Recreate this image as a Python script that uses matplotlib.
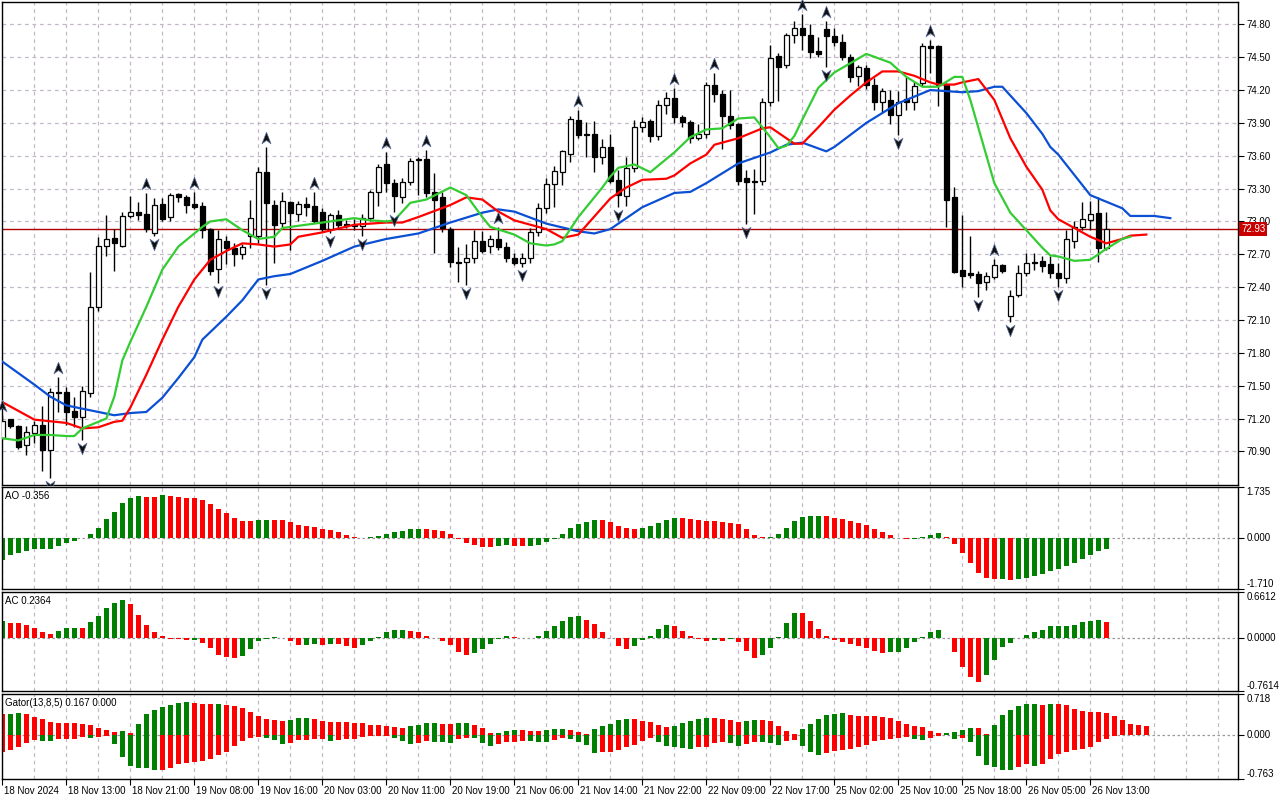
import numpy as np
import matplotlib
matplotlib.use("Agg")
import matplotlib.pyplot as plt
from matplotlib.path import Path
from matplotlib.transforms import ScaledTranslation, blended_transform_factory

plt.rcParams['font.family'] = ['Liberation Sans', 'DejaVu Sans']

# ---------------- data ----------------
TIME_LABELS = ["18 Nov 2024", "18 Nov 13:00", "18 Nov 21:00", "19 Nov 08:00", "19 Nov 16:00",
               "20 Nov 03:00", "20 Nov 11:00", "20 Nov 19:00", "21 Nov 06:00", "21 Nov 14:00",
               "21 Nov 22:00", "22 Nov 09:00", "22 Nov 17:00", "25 Nov 02:00", "25 Nov 10:00",
               "25 Nov 18:00", "26 Nov 05:00", "26 Nov 13:00"]

OPEN = [71.02, 71.20, 71.13, 70.96, 71.07, 71.14, 70.91, 71.44, 71.44, 71.27,
        71.21, 71.43, 72.22, 72.78, 72.85, 72.78, 73.05, 73.09, 73.07, 72.89,
        73.16, 73.04, 73.25, 73.22, 73.16, 73.14, 72.93, 72.57, 72.82, 72.76,
        72.70, 72.87, 72.87, 73.45, 73.15, 72.99, 73.18, 73.07, 73.16, 73.14,
        73.09, 72.93, 73.06, 72.98, 72.97, 72.96, 73.03, 73.27, 73.52, 73.35,
        73.22, 73.36, 73.56, 73.57, 73.27, 73.22, 72.93, 72.63, 72.63, 72.67,
        72.82, 72.78, 72.84, 72.77, 72.67, 72.62, 72.67, 72.90, 73.12, 73.34,
        73.45, 73.62, 73.93, 73.80, 73.80, 73.59, 73.68, 73.38, 73.23, 73.49,
        73.86, 73.92, 73.78, 74.06, 74.13, 73.95, 73.91, 73.76, 73.80, 74.25,
        74.16, 73.96, 73.89, 73.40, 73.36, 73.37, 74.09, 74.51, 74.43, 74.70,
        74.77, 74.70, 74.56, 74.76, 74.69, 74.64, 74.50, 74.33, 74.40, 74.25,
        74.09, 74.11, 73.97, 74.12, 74.09, 74.26, 74.60, 74.60, 74.25, 73.22,
        72.56, 72.53, 72.52, 72.45, 72.49, 72.60, 72.14, 72.33, 72.53, 72.63,
        72.64, 72.61, 72.53, 72.48, 72.82, 72.95, 73.01, 73.08, 72.76]
HIGH = [71.23, 71.20, 71.14, 71.13, 71.18, 71.31, 71.48, 71.58, 71.49, 71.40,
        71.50, 72.54, 72.86, 73.06, 72.93, 73.09, 73.23, 73.18, 73.26, 73.21,
        73.21, 73.26, 73.26, 73.24, 73.27, 73.18, 72.94, 72.92, 72.87, 72.80,
        72.79, 73.20, 73.50, 73.68, 73.20, 73.27, 73.19, 73.19, 73.22, 73.27,
        73.12, 73.08, 73.10, 73.01, 73.02, 73.07, 73.29, 73.52, 73.63, 73.39,
        73.40, 73.58, 73.59, 73.65, 73.44, 73.27, 72.95, 72.77, 72.79, 72.92,
        72.91, 72.88, 72.95, 72.81, 72.71, 72.71, 72.94, 73.17, 73.40, 73.51,
        73.65, 73.96, 74.02, 73.91, 73.92, 73.75, 73.80, 73.47, 73.59, 73.93,
        73.95, 73.94, 74.11, 74.18, 74.22, 73.97, 73.93, 73.89, 74.27, 74.36,
        74.20, 74.20, 73.90, 73.47, 73.48, 74.13, 74.61, 74.54, 74.72, 74.83,
        74.89, 74.80, 74.68, 74.83, 74.77, 74.71, 74.53, 74.43, 74.43, 74.31,
        74.22, 74.20, 74.19, 74.32, 74.27, 74.63, 74.66, 74.61, 74.26, 73.31,
        73.06, 72.87, 72.55, 72.54, 72.66, 72.61, 72.37, 72.60, 72.71, 72.71,
        72.68, 72.68, 72.62, 72.92, 73.00, 73.18, 73.19, 73.22, 73.09]
LOW = [71.00, 71.11, 70.92, 70.87, 70.98, 70.72, 70.66, 71.26, 71.14, 71.12,
       71.00, 71.40, 72.18, 72.68, 72.55, 72.77, 73.03, 73.01, 72.90, 72.87,
       73.00, 73.00, 73.18, 73.08, 73.11, 72.85, 72.51, 72.44, 72.61, 72.59,
       72.66, 72.76, 72.80, 72.42, 72.62, 72.95, 72.74, 73.00, 73.05, 72.99,
       72.90, 72.89, 72.93, 72.94, 72.92, 72.87, 73.00, 73.14, 73.27, 73.09,
       73.17, 73.33, 73.24, 73.22, 72.71, 72.90, 72.58, 72.45, 72.42, 72.62,
       72.71, 72.71, 72.74, 72.63, 72.60, 72.58, 72.62, 72.87, 73.08, 73.13,
       73.33, 73.54, 73.76, 73.59, 73.45, 73.52, 73.35, 73.13, 73.14, 73.45,
       73.82, 73.73, 73.74, 73.98, 73.90, 73.86, 73.72, 73.74, 73.76, 74.09,
       73.66, 73.84, 73.33, 72.98, 73.07, 73.33, 74.05, 74.10, 74.40, 74.63,
       74.57, 74.49, 74.50, 74.41, 74.60, 74.47, 74.27, 74.24, 74.21, 74.02,
       73.99, 73.89, 73.79, 74.02, 74.02, 74.24, 74.36, 74.05, 72.95, 72.53,
       72.40, 72.48, 72.31, 72.37, 72.47, 72.53, 72.08, 72.31, 72.50, 72.56,
       72.54, 72.48, 72.40, 72.44, 72.76, 72.92, 72.92, 72.63, 72.74]
CLOSE = [71.18, 71.13, 70.94, 71.08, 71.14, 70.91, 71.44, 71.43, 71.26, 71.21,
         71.45, 72.22, 72.78, 72.84, 72.80, 73.05, 73.09, 73.06, 72.93, 73.15,
         73.02, 73.24, 73.22, 73.15, 73.13, 72.92, 72.55, 72.84, 72.76, 72.70,
         72.77, 73.03, 73.45, 73.17, 72.97, 73.19, 73.08, 73.16, 73.13, 73.00,
         72.93, 73.06, 72.97, 72.96, 72.96, 73.03, 73.27, 73.50, 73.35, 73.23,
         73.36, 73.55, 73.57, 73.26, 73.20, 72.94, 72.63, 72.62, 72.67, 72.82,
         72.73, 72.84, 72.77, 72.67, 72.62, 72.67, 72.90, 73.12, 73.34, 73.46,
         73.64, 73.94, 73.79, 73.79, 73.59, 73.68, 73.37, 73.24, 73.49, 73.86,
         73.91, 73.78, 74.06, 74.13, 73.95, 73.91, 73.76, 73.80, 74.25, 74.16,
         73.96, 73.88, 73.37, 73.36, 73.365, 74.09, 74.49, 74.41, 74.70, 74.77,
         74.70, 74.55, 74.53, 74.69, 74.64, 74.50, 74.32, 74.41, 74.25, 74.09,
         74.19, 73.97, 74.09, 74.09, 74.24, 74.60, 74.58, 74.25, 73.20, 72.54,
         72.50, 72.51, 72.44, 72.50, 72.60, 72.55, 72.32, 72.53, 72.62, 72.62,
         72.59, 72.53, 72.48, 72.84, 72.95, 73.02, 73.07, 72.76, 72.93]

# Alligator lines (bar index, price)
JAW_X = [0, 4, 6, 8, 10, 12, 14, 16, 18, 20, 22, 24, 25, 28, 30, 32, 34, 36, 38, 40,
         44, 48, 52, 56, 60, 62, 64, 68, 72, 74, 76, 80, 84, 86, 88, 92, 96, 98, 100, 103,
         104, 108, 112, 116, 118, 120, 122, 124, 125, 128, 130, 131, 132, 136, 140, 141, 144, 146]
JAW_Y = [71.72, 71.51, 71.40, 71.32, 71.29, 71.26, 71.23, 71.25, 71.26, 71.39, 71.57, 71.76, 71.92,
         72.13, 72.28, 72.47, 72.50, 72.52, 72.58, 72.64,
         72.77, 72.84, 72.89, 72.99, 73.08, 73.11, 73.09, 72.98, 72.91, 72.89, 72.93, 73.13, 73.26,
         73.27, 73.35, 73.53, 73.63, 73.70, 73.72, 73.64,
         73.68, 73.90, 74.08, 74.20, 74.19, 74.18, 74.19, 74.23, 74.23, 73.99, 73.80, 73.68, 73.61,
         73.24, 73.12, 73.05, 73.05, 73.03]
TEETH_X = [0, 4, 8, 10, 12, 14, 15, 16, 18, 20, 22, 24, 26, 28, 30, 32, 34, 36, 37, 40,
           44, 48, 50, 52, 56, 58, 60, 62, 64, 68, 70, 72, 76, 78, 80, 83, 84, 86, 88, 89,
           92, 95, 96, 98, 99, 100, 102, 104, 106, 108, 110, 112, 114, 116, 117, 119, 120, 122,
           124, 126, 128, 130, 131, 132, 136, 138, 140, 141, 143]
TEETH_Y = [71.35, 71.19, 71.16, 71.11, 71.12, 71.17, 71.18, 71.30, 71.60, 71.92, 72.22, 72.47,
           72.65, 72.73, 72.80, 72.79, 72.77, 72.79, 72.86, 72.90,
           72.97, 72.99, 72.99, 73.04, 73.15, 73.22, 73.20, 73.09, 73.01, 72.93, 72.85, 72.88,
           73.21, 73.31, 73.38, 73.39, 73.42, 73.53, 73.61, 73.70,
           73.76, 73.85, 73.86, 73.76, 73.71, 73.71, 73.86, 74.02, 74.15, 74.27, 74.37, 74.37,
           74.33, 74.27, 74.25, 74.25, 74.27, 74.30,
           74.11, 73.76, 73.50, 73.29, 73.10, 73.02, 72.86, 72.80, 72.84, 72.87, 72.88]
LIPS_X = [0, 2, 4, 6, 8, 9, 10, 12, 13, 14, 15, 16, 18, 20, 22, 24, 25, 26, 28, 30,
          32, 34, 35, 36, 38, 40, 44, 46, 48, 49, 51, 53, 56, 58, 60, 61, 64, 66, 68, 69,
          70, 72, 75, 76, 77, 79, 81, 84, 86, 88, 90, 92, 94, 96, 97, 98, 99, 100, 102, 104,
          108, 111, 113, 115, 117, 119, 120, 121, 124, 126, 128, 130, 131, 132, 134, 136, 138,
          140, 141]
LIPS_Y = [71.02, 71.00, 71.05, 71.05, 71.04, 71.04, 71.11, 71.17, 71.20, 71.40, 71.73, 71.90,
          72.22, 72.56, 72.77, 72.89, 72.95, 73.00, 73.02, 72.92,
          72.84, 72.86, 72.94, 72.95, 72.97, 72.99, 73.03, 73.01, 73.00, 73.01, 73.17, 73.20,
          73.31, 73.24, 73.04, 72.95, 72.88, 72.80, 72.78, 72.79,
          72.82, 73.04, 73.31, 73.41, 73.49, 73.52, 73.45, 73.63, 73.77, 73.84, 73.85, 73.94,
          73.95, 73.77, 73.67, 73.69, 73.78, 73.93, 74.22, 74.36,
          74.53, 74.45, 74.32, 74.23, 74.23, 74.32, 74.32, 74.11, 73.35, 73.08, 72.92, 72.76,
          72.69, 72.68, 72.64, 72.65, 72.75, 72.84, 72.86]

FRACTAL_UP = [0, 7, 18, 24, 33, 39, 48, 53, 62, 72, 84, 89, 100, 103, 116, 124]
FRACTAL_DN = [6, 10, 19, 27, 33, 41, 45, 49, 58, 65, 77, 93, 103, 112, 122, 126, 132]

AO = [-0.73, -0.56, -0.51, -0.43, -0.36, -0.355, -0.35, -0.26, -0.17, -0.08,
      0.01, 0.135, 0.34, 0.64, 0.88, 1.18, 1.35, 1.42, 1.41, 1.40,
      1.45, 1.43, 1.385, 1.38, 1.35, 1.28, 1.15, 0.99, 0.845, 0.69,
      0.575, 0.57, 0.62, 0.625, 0.615, 0.61, 0.54, 0.44, 0.415, 0.38,
      0.315, 0.27, 0.20, 0.10, 0.035, 0.005, 0.045, 0.08, 0.135, 0.20,
      0.235, 0.30, 0.305, 0.30, 0.27, 0.25, 0.145, -0.005, -0.17, -0.225,
      -0.29, -0.295, -0.26, -0.225, -0.26, -0.265, -0.26, -0.225, -0.125, -0.005,
      0.135, 0.35, 0.485, 0.55, 0.62, 0.615, 0.54, 0.415, 0.34, 0.30,
      0.34, 0.405, 0.505, 0.61, 0.685, 0.68, 0.65, 0.62, 0.575, 0.57,
      0.54, 0.535, 0.47, 0.30, 0.10, 0.035, 0.04, 0.135, 0.34, 0.575,
      0.71, 0.74, 0.745, 0.74, 0.685, 0.65, 0.575, 0.505, 0.44, 0.30,
      0.20, 0.10, 0.005, -0.01, -0.005, 0.035, 0.10, 0.18, 0.03, -0.19,
      -0.48, -0.82, -1.16, -1.33, -1.37, -1.36, -1.41, -1.37, -1.33, -1.26,
      -1.22, -1.10, -1.02, -0.92, -0.82, -0.69, -0.55, -0.42, -0.356]
AC = [0.24, 0.22, 0.21, 0.19, 0.147, 0.08, 0.06, 0.10, 0.147, 0.15,
      0.145, 0.23, 0.32, 0.43, 0.50, 0.54, 0.49, 0.33, 0.19, 0.09,
      0.03, -0.01, -0.02, -0.035, -0.03, -0.075, -0.15, -0.24, -0.28, -0.29,
      -0.265, -0.165, -0.05, -0.01, 0.01, -0.005, -0.05, -0.105, -0.10, -0.09,
      -0.105, -0.09, -0.092, -0.12, -0.14, -0.105, -0.05, 0.015, 0.09, 0.12,
      0.121, 0.105, 0.08, 0.03, 0.0, -0.05, -0.105, -0.195, -0.25, -0.21,
      -0.165, -0.09, -0.01, 0.03, 0.015, -0.003, -0.005, 0.03, 0.105, 0.175,
      0.245, 0.30, 0.32, 0.26, 0.205, 0.09, -0.005, -0.12, -0.165, -0.12,
      -0.035, 0.03, 0.13, 0.19, 0.175, 0.105, 0.03, -0.02, -0.05, -0.035,
      -0.04, -0.02, -0.06, -0.18, -0.29, -0.25, -0.14, 0.015, 0.22, 0.36,
      0.355, 0.245, 0.13, 0.03, -0.035, -0.06, -0.09, -0.12, -0.14, -0.18,
      -0.21, -0.20, -0.195, -0.15, -0.06, 0.015, 0.09, 0.12, -0.005, -0.204,
      -0.417, -0.56, -0.63, -0.53, -0.318, -0.133, -0.076, -0.003, 0.047, 0.08,
      0.109, 0.175, 0.176, 0.177, 0.194, 0.223, 0.251, 0.26, 0.2364]
GATOR_UP = [0.361, 0.376, 0.379, 0.361, 0.310, 0.275, 0.224, 0.207, 0.206, 0.205,
            0.189, 0.172, 0.120, 0.086, 0.052, 0.069, 0.034, 0.189, 0.361, 0.447,
            0.499, 0.534, 0.568, 0.585, 0.568, 0.551, 0.550, 0.552, 0.534, 0.516,
            0.482, 0.413, 0.327, 0.275, 0.258, 0.241, 0.258, 0.293, 0.294, 0.275,
            0.241, 0.224, 0.223, 0.222, 0.221, 0.207, 0.172, 0.171, 0.155, 0.138,
            0.125, 0.155, 0.172, 0.207, 0.208, 0.189, 0.188, 0.207, 0.208, 0.172,
            0.120, 0.034, 0.036, 0.069, 0.086, 0.085, 0.069, 0.068, 0.086, 0.103,
            0.104, 0.086, 0.052, 0.017, 0.103, 0.155, 0.189, 0.258, 0.275, 0.274,
            0.241, 0.224, 0.172, 0.138, 0.155, 0.207, 0.241, 0.275, 0.293, 0.292,
            0.290, 0.258, 0.224, 0.241, 0.258, 0.257, 0.241, 0.155, 0.069, 0.017,
            0.103, 0.189, 0.275, 0.344, 0.361, 0.379, 0.344, 0.343, 0.327, 0.326,
            0.325, 0.293, 0.241, 0.189, 0.155, 0.138, 0.069, 0.030, 0.034, 0.052,
            0.086, 0.120, 0.119, 0.023, 0.172, 0.344, 0.447, 0.516, 0.551, 0.552,
            0.534, 0.551, 0.550, 0.533, 0.465, 0.430, 0.413, 0.396, 0.379, 0.327,
            0.258, 0.189, 0.172, 0.167]
GATOR_DN = [-0.298, -0.258, -0.200, -0.138, -0.086, -0.103, -0.104, -0.069, -0.068, -0.067,
            -0.034, -0.046, -0.023, -0.017, -0.155, -0.384, -0.545, -0.568, -0.569, -0.614,
            -0.602, -0.568, -0.510, -0.482, -0.459, -0.448, -0.413, -0.344, -0.287, -0.184,
            -0.098, -0.057, -0.034, -0.046, -0.080, -0.155, -0.143, -0.080, -0.079, -0.063,
            -0.062, -0.098, -0.080, -0.063, -0.062, -0.029, -0.017, -0.011, -0.010, -0.046,
            -0.098, -0.155, -0.138, -0.103, -0.126, -0.127, -0.138, -0.063, -0.046, -0.052,
            -0.138, -0.184, -0.155, -0.115, -0.114, -0.098, -0.109, -0.115, -0.116, -0.080,
            -0.046, -0.063, -0.115, -0.166, -0.310, -0.298, -0.293, -0.258, -0.205, -0.166,
            -0.098, -0.040, -0.115, -0.184, -0.201, -0.230, -0.241, -0.212, -0.201, -0.138,
            -0.126, -0.138, -0.184, -0.161, -0.115, -0.125, -0.138, -0.166, -0.098, -0.080,
            -0.184, -0.298, -0.338, -0.310, -0.270, -0.252, -0.241, -0.212, -0.166, -0.098,
            -0.086, -0.069, -0.046, -0.029, -0.069, -0.086, -0.040, -0.011, -0.005, -0.069,
            -0.046, -0.115, -0.356, -0.516, -0.551, -0.602, -0.603, -0.551, -0.499, -0.534,
            -0.499, -0.410, -0.330, -0.290, -0.250, -0.235, -0.200, -0.115, -0.069, -0.011,
            -0.003, 0.000]

PRICE_TICKS = [70.90, 71.20, 71.50, 71.80, 72.10, 72.40, 72.70, 73.00, 73.30, 73.60,
               73.90, 74.20, 74.50, 74.80]
LAST_PRICE = 72.93
AO_RANGE = (-1.710, 1.735)
AC_RANGE = (-0.7614, 0.6612)
GATOR_RANGE = (-0.763, 0.718)
MAIN_RANGE = (70.593, 75.004)

# ---------------- style ----------------
GRID_C = '#c4b8c8'
GREEN = '#008000'
RED = '#ff0000'
FS = 7

W, H = 1280, 800
fig = plt.figure(figsize=(W / 100, H / 100), dpi=100)
fig.patch.set_facecolor('white')


def rect(top, bottom, left=2, right=1238):
    return [left / W, 1 - bottom / H, (right - left) / W, (bottom - top) / H]


ax = fig.add_axes(rect(2, 485))
ax_ao = fig.add_axes(rect(487, 589))
ax_ac = fig.add_axes(rect(592, 691))
ax_g = fig.add_axes(rect(694, 779))
axes = [ax, ax_ao, ax_ac, ax_g]

n = len(CLOSE)
xs = np.arange(n)
bar_px = 8.0
x0 = -0.04
x1 = x0 + 1236 / bar_px
grid_idx = np.arange(0, int(x1) + 1, 4)

for a in axes:
    a.set_xlim(x0, x1)
    for s in a.spines.values():
        s.set_color('black')
        s.set_linewidth(1.0)
    for gx in grid_idx:
        a.axvline(gx, color=GRID_C, lw=0.9, ls=(0, (3, 3)), zorder=0)
    a.yaxis.tick_right()
    a.tick_params(axis='y', direction='out', length=4, width=0.8, pad=2, labelsize=FS, colors='black')
    a.tick_params(axis='x', bottom=False, labelbottom=False)

# ---------- main price panel ----------
ax.set_ylim(*MAIN_RANGE)
ax.set_yticks(PRICE_TICKS)
ax.set_yticklabels([f"{p:.2f}" for p in PRICE_TICKS])
for p in PRICE_TICKS:
    ax.axhline(p, color=GRID_C, lw=0.9, ls=(0, (3, 3)), zorder=0)

o = np.array(OPEN); h = np.array(HIGH); l = np.array(LOW); c = np.array(CLOSE)
ax.axhline(LAST_PRICE, color='#b00000', lw=1.0, zorder=1.5)
ax.vlines(xs, l, h, color='black', lw=1.0, zorder=2)
body_lo = np.minimum(o, c)
body_h = np.abs(c - o)
fill = ['white' if cc > oo else 'black' for oo, cc in zip(o, c)]
ax.bar(xs, body_h, bottom=body_lo, width=0.62, color=fill, edgecolor='black',
       linewidth=0.9, zorder=3)

ax.plot(JAW_X, JAW_Y, color='#0a4fd4', lw=1.6, zorder=4, solid_joinstyle='round')
ax.plot(TEETH_X, TEETH_Y, color='#ff0000', lw=1.6, zorder=4, solid_joinstyle='round')
ax.plot(LIPS_X, LIPS_Y, color='#33cc33', lw=1.6, zorder=4, solid_joinstyle='round')

up_marker = Path([(0, 1), (0.72, -0.85), (0, -0.3), (-0.72, -0.85), (0, 1)],
                 [Path.MOVETO, Path.LINETO, Path.LINETO, Path.LINETO, Path.CLOSEPOLY])
dn_marker = Path([(0, -1), (0.72, 0.85), (0, 0.3), (-0.72, 0.85), (0, -1)],
                 [Path.MOVETO, Path.LINETO, Path.LINETO, Path.LINETO, Path.CLOSEPOLY])
up_off = ax.transData + ScaledTranslation(0, 9 / 100, fig.dpi_scale_trans)
dn_off = ax.transData + ScaledTranslation(0, -8 / 100, fig.dpi_scale_trans)
ax.plot(FRACTAL_UP, h[FRACTAL_UP], ls='none', marker=up_marker, ms=9, mfc='#101010',
        mec='#5a6e9a', mew=0.5, transform=up_off, zorder=5, clip_on=False)
ax.plot(FRACTAL_DN, l[FRACTAL_DN], ls='none', marker=dn_marker, ms=9, mfc='#101010',
        mec='#5a6e9a', mew=0.5, transform=dn_off, zorder=5)

trans_r = blended_transform_factory(ax.transAxes, ax.transData)
ax.text(1.0 + 3 / 1236, LAST_PRICE, f"{LAST_PRICE:.2f}", transform=trans_r, ha='left',
        va='center', color='white', fontsize=FS, zorder=10, clip_on=False,
        bbox=dict(boxstyle='square,pad=0.18', fc='#c80000', ec='none'))


# ---------- histogram helper ----------
def updown(vals, first, use_abs=False):
    v = np.abs(np.asarray(vals)) if use_abs else np.asarray(vals)
    cols = [first]
    for i in range(1, len(v)):
        cols.append(GREEN if v[i] > v[i - 1] else RED)
    return cols


def setup_sub(a, rng, labels, title):
    a.set_ylim(*rng)
    a.set_yticks([rng[0], 0.0, rng[1]])
    a.set_yticklabels(labels)
    ticks = a.yaxis.get_major_ticks()
    for t, va in zip(ticks, ['bottom', 'center', 'top']):
        t.label2.set_va(va)
    a.axhline(0, color='#9a9a9a', lw=0.9, ls=(0, (2, 2)), zorder=0.5)
    off = ScaledTranslation(3 / 100, -4 / 100, fig.dpi_scale_trans)
    a.text(0, 1, title, transform=a.transAxes + off, ha='left', va='top', fontsize=FS, zorder=10)


BW = 0.55
ax_ao.bar(np.arange(len(AO)), AO, width=BW, color=updown(AO, GREEN), zorder=2)
setup_sub(ax_ao, AO_RANGE, ['-1.710', '0.000', '1.735'], f"AO {AO[-1]:.3f}")

ax_ac.bar(np.arange(len(AC)), AC, width=BW, color=updown(AC, GREEN), zorder=2)
setup_sub(ax_ac, AC_RANGE, ['-0.7614', '0.0000', '0.6612'], f"AC {AC[-1]:.4f}")

ax_g.bar(np.arange(len(GATOR_UP)), GATOR_UP, width=BW, color=updown(GATOR_UP, RED), zorder=2)
ax_g.bar(np.arange(len(GATOR_DN)), GATOR_DN, width=BW, color=updown(GATOR_DN, RED, True), zorder=2)
setup_sub(ax_g, GATOR_RANGE, ['-0.763', '0.000', '0.718'],
          f"Gator(13,8,5) {GATOR_UP[-1]:.3f} {abs(GATOR_DN[-1]):.3f}")

# time axis
lab_idx = np.arange(0, n, 8)[:len(TIME_LABELS)]
ax_g.set_xticks(lab_idx)
ax_g.set_xticklabels(TIME_LABELS[:len(lab_idx)])
ax_g.tick_params(axis='x', bottom=True, labelbottom=True, direction='out', length=4,
                 width=0.8, pad=1, labelsize=FS)
shift = ScaledTranslation(2 / 100, 0, fig.dpi_scale_trans)
for lbl in ax_g.get_xticklabels():
    lbl.set_ha('left')
    lbl.set_transform(lbl.get_transform() + shift)

fig.savefig('out.png', dpi=100, facecolor='white')
